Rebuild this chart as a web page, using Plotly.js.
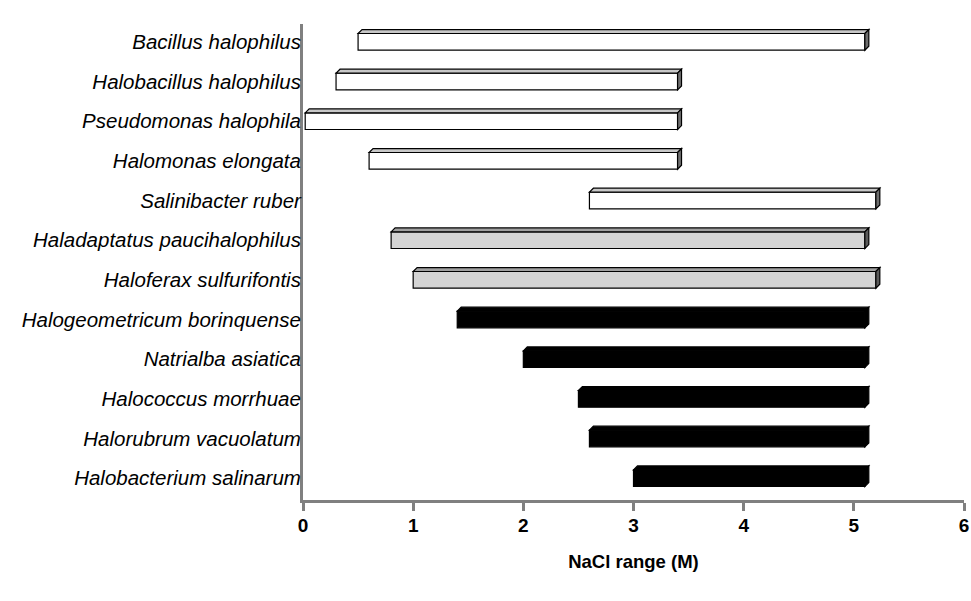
<!DOCTYPE html>
<html>
<head>
<meta charset="utf-8">
<script src="https://cdn.plot.ly/plotly-3.0.1.min.js"></script>
<style>html,body{margin:0;padding:0;background:#fff;}#chart{width:971px;height:601px;}</style>
</head>
<body>
<div id="chart"></div>
<script>
var species = [
  "Bacillus halophilus",
  "Halobacillus halophilus",
  "Pseudomonas halophila",
  "Halomonas elongata",
  "Salinibacter ruber",
  "Haladaptatus paucihalophilus",
  "Haloferax sulfurifontis",
  "Halogeometricum borinquense",
  "Natrialba asiatica",
  "Halococcus morrhuae",
  "Halorubrum vacuolatum",
  "Halobacterium salinarum"
];
var minNaCl = [0.5, 0.3, 0.02, 0.6, 2.6, 0.8, 1.0, 1.4, 2.0, 2.5, 2.6, 3.0];
var maxNaCl = [5.1, 3.4, 3.4, 3.4, 5.2, 5.1, 5.2, 5.1, 5.1, 5.1, 5.1, 5.1];
var group = ["bacteria","bacteria","bacteria","bacteria","bacteria","grey","grey","archaea","archaea","archaea","archaea","archaea"];
var xTicks = [0, 1, 2, 3, 4, 5, 6];

var frontCol = {bacteria: "#ffffff", grey: "#d4d4d4", archaea: "#000000"};
var topCol = {bacteria: "#c8c8c8", grey: "#a0a0a0", archaea: "#000000"};
var sideCol = {bacteria: "#6e6e6e", grey: "#5a5a5a", archaea: "#000000"};

var idx = species.map(function(_, i){ return i; });
var h = 0.42;      // bar thickness (category units)
var dx = 0.036;    // depth in x units
var dy = 0.1;      // depth in category units

var barTrace = {
  type: "bar",
  orientation: "h",
  y: idx,
  base: minNaCl,
  x: maxNaCl.map(function(v, i){ return v - minNaCl[i]; }),
  width: h,
  marker: {
    color: group.map(function(g){ return frontCol[g]; }),
    line: {color: "#000", width: 1.2}
  },
  hoverinfo: "skip",
  showlegend: false
};

var shapes = [];
idx.forEach(function(i){
  var s = minNaCl[i], e = maxNaCl[i], g = group[i];
  var yt = i - h/2, yb = i + h/2;
  shapes.push({
    type: "path", xref: "x", yref: "y", layer: "above",
    path: "M" + s + "," + yt + " L" + (s+dx) + "," + (yt-dy) + " L" + (e+dx) + "," + (yt-dy) + " L" + e + "," + yt + " Z",
    fillcolor: topCol[g], line: {color: "#000", width: 1.2}
  });
  shapes.push({
    type: "path", xref: "x", yref: "y", layer: "above",
    path: "M" + e + "," + yt + " L" + (e+dx) + "," + (yt-dy) + " L" + (e+dx) + "," + (yb-dy) + " L" + e + "," + yb + " Z",
    fillcolor: sideCol[g], line: {color: "#000", width: 1.2}
  });
});

var layout = {
  width: 971, height: 601,
  margin: {l: 303, r: 7, t: 24, b: 101, pad: 0},
  paper_bgcolor: "#fff", plot_bgcolor: "#fff",
  font: {family: "Liberation Sans, Arial, sans-serif", color: "#000"},
  xaxis: {
    range: [0, 6], tickvals: xTicks, ticktext: xTicks.map(String),
    showgrid: false, zeroline: false,
    showline: true, linecolor: "#808080", linewidth: 3,
    ticks: "outside", ticklen: 8, tickwidth: 3, tickcolor: "#808080",
    ticklabelstandoff: -2,
    tickfont: {size: 19, family: "Liberation Sans, Arial, sans-serif", weight: "bold", color: "#000"},
    title: {text: "<b>NaCl range (M)</b>", font: {size: 18.5, color: "#000"}, standoff: 21},
    fixedrange: true
  },
  yaxis: {
    range: [11.55, -0.45],
    tickvals: idx, ticktext: species.map(function(s){ return "<i>" + s + "</i>"; }),
    showgrid: false, zeroline: false,
    showline: true, linecolor: "#808080", linewidth: 3,
    ticks: "", ticklen: 0,
    ticklabelstandoff: -5,
    tickfont: {size: 20.5, color: "#000"},
    fixedrange: true
  },
  shapes: shapes,
  bargap: 0
};

Plotly.newPlot("chart", [barTrace], layout, {displayModeBar: false, staticPlot: true});
</script>
</body>
</html>
